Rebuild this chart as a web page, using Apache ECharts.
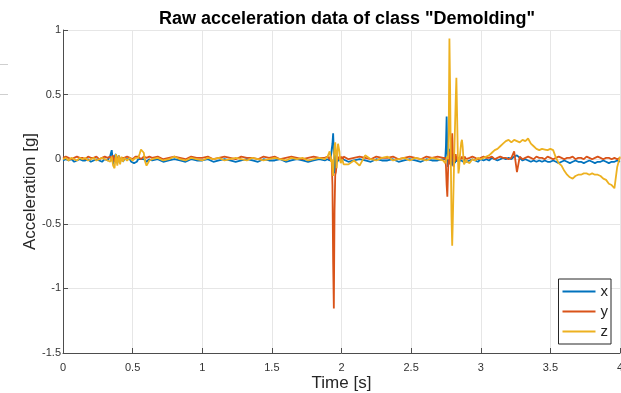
<!DOCTYPE html>
<html>
<head>
<meta charset="utf-8">
<script src="https://cdn.jsdelivr.net/npm/echarts@6/dist/echarts.min.js"></script>
<style>
  html, body { margin: 0; padding: 0; background: #fff; }
  #chart { width: 621px; height: 393px; }
</style>
</head>
<body>
<div id="chart"></div>
<script>
// sample times [s], denser around the impacts
const time = [
  0, 0.02, 0.04, 0.06, 0.08, 0.1, 0.12, 0.14, 0.16, 0.18, 0.2, 0.22, 0.24, 0.26, 0.28, 0.3, 0.32,
  0.33, 0.34, 0.35, 0.36, 0.37, 0.38, 0.39, 0.4, 0.41, 0.42, 0.43, 0.44, 0.45, 0.46, 0.47, 0.48, 0.49, 0.5, 0.51, 0.52, 0.53, 0.54, 0.55, 0.56, 0.57, 0.58, 0.59, 0.6, 0.61, 0.62,
  0.64, 0.68, 0.72, 0.76, 0.8, 0.84, 0.88, 0.92, 0.96, 1, 1.04, 1.08, 1.12, 1.16, 1.2, 1.24, 1.28, 1.32, 1.36, 1.4, 1.44, 1.48, 1.52, 1.56, 1.6, 1.64, 1.68, 1.72, 1.76, 1.8, 1.84, 1.88, 1.9,
  1.91, 1.915, 1.92, 1.925, 1.93, 1.935, 1.94, 1.945, 1.95, 1.955, 1.96, 1.965, 1.97, 1.975, 1.98, 1.985, 1.99, 1.995, 2, 2.005, 2.01, 2.015, 2.02,
  2.05, 2.09, 2.13, 2.17, 2.21, 2.25, 2.29, 2.33, 2.37, 2.41, 2.45, 2.49, 2.53, 2.57, 2.61, 2.65, 2.69, 2.73,
  2.745, 2.75, 2.755, 2.76, 2.765, 2.77, 2.775, 2.78, 2.785, 2.79, 2.795, 2.8, 2.805, 2.81, 2.815, 2.82, 2.825, 2.83, 2.835, 2.84, 2.845, 2.85, 2.855, 2.86, 2.865, 2.87, 2.875, 2.88, 2.885, 2.89, 2.895, 2.9,
  2.92, 2.94, 2.96, 2.98, 3, 3.02, 3.04, 3.06, 3.08, 3.1, 3.12, 3.14, 3.16, 3.18, 3.2, 3.22, 3.24, 3.26, 3.28, 3.3, 3.32, 3.34, 3.36, 3.38, 3.4, 3.42, 3.44, 3.46, 3.48, 3.5,
  3.52, 3.54, 3.56, 3.58, 3.6, 3.62, 3.64, 3.66, 3.68, 3.7, 3.72, 3.74, 3.76, 3.78, 3.8, 3.82, 3.84, 3.86, 3.88, 3.9, 3.92, 3.94, 3.96, 3.98, 4
];

// acceleration [g]
const accX = [
  -0.01, 0, -0.01, 0, -0.02, -0.01, 0, -0.01, -0.01, 0, -0.02, -0.01, 0, -0.01, -0.02, 0, -0.01,
  0, 0.03, 0.07, -0.04, 0.02, 0.04, -0.03, 0.03, -0.02, 0.01, -0.02, 0, -0.01, 0, -0.01, 0, -0.02, -0.01, -0.03, -0.04, -0.02, 0, 0.01, 0, -0.01, 0, -0.01, -0.02, -0.01, 0,
  -0.01, 0, -0.02, -0.01, 0, -0.01, -0.02, 0, -0.01, -0.01, 0, -0.02, -0.01, 0, -0.01, -0.02, -0.01, 0, -0.01, -0.02, 0, -0.01, -0.01, 0, -0.02, -0.01, 0, -0.01, -0.02, -0.01, 0, -0.01, 0,
  0, -0.01, 0.01, 0.03, 0.08, 0.12, 0.2, 0.05, -0.11, -0.04, 0.03, 0.01, -0.02, -0.01, 0, -0.01, 0, -0.01, -0.02, -0.01, 0, -0.01, 0,
  -0.02, -0.01, 0, -0.01, -0.02, 0, -0.01, -0.01, 0, -0.02, -0.01, 0, -0.01, -0.02, 0, -0.01, -0.01, 0,
  0, 0.1, 0.33, 0.05, -0.06, 0.02, 0.08, -0.03, 0.12, 0.03, -0.05, 0.04, -0.02, 0.02, -0.03, 0.01, -0.02, 0, -0.01, 0, -0.01, -0.02, 0, -0.01, -0.01, 0, -0.02, -0.01, 0, -0.01, -0.02, -0.01,
  -0.01, 0, -0.01, -0.02, 0, -0.01, 0, -0.01, 0.01, 0, -0.01, 0, 0.01, 0, 0.01, 0, 0.02, 0.03, 0.01, -0.01, 0, -0.01, -0.02, -0.01, -0.02, -0.01, -0.02, -0.01, -0.02, -0.02,
  -0.01, -0.02, -0.03, -0.02, -0.01, -0.02, -0.03, -0.02, -0.01, -0.02, -0.02, -0.03, -0.02, -0.01, -0.02, -0.03, -0.02, -0.02, -0.01, -0.02, -0.03, -0.02, -0.02, -0.01, -0.02
];

const accY = [
  0.01, 0.02, 0.01, 0, 0.01, 0.02, 0.01, 0.01, 0, 0.02, 0.01, 0.01, 0.02, 0, 0.01, 0.02, 0.01,
  0.01, 0.02, 0, 0.03, -0.02, 0.02, 0, 0.02, -0.01, 0.01, 0.02, 0.01, 0, 0.02, 0.01, 0.01, 0.02, 0, 0.01, 0.02, 0.01, 0.02, 0.01, 0, 0.01, 0.02, 0.01, 0.01, 0, 0.02,
  0.01, 0.02, 0, 0.01, 0.02, 0.01, 0, 0.02, 0.01, 0.01, 0.02, 0, 0.01, 0.02, 0.01, 0, 0.02, 0.01, 0.01, 0, 0.02, 0.01, 0.02, 0, 0.01, 0.02, 0.01, 0, 0.01, 0.02, 0.01, 0.01, 0.02,
  0.01, 0, 0.02, 0, -0.02, -0.2, -0.8, -1.155, -0.4, -0.12, -0.1, -0.03, 0.02, 0, 0.01, 0.02, 0, 0.01, 0.02, 0.01, 0, 0.02, 0.01,
  0, 0.01, 0.02, 0.01, 0, 0.02, 0.01, 0.01, 0.02, 0, 0.01, 0.02, 0.01, 0, 0.02, 0.01, 0.02, 0.01,
  0.01, -0.05, -0.2, -0.29, -0.1, 0.03, -0.04, 0.06, -0.02, 0.1, 0.2, 0.05, -0.06, 0.03, -0.02, 0.04, 0, 0.02, -0.01, 0.01, 0.01, 0.02, 0, 0.01, 0.02, 0.01, 0, 0.01, 0.02, 0.01, 0, 0.01,
  0.01, 0.02, 0.01, 0, 0.01, 0.02, 0.01, 0.01, 0.02, 0, 0.01, 0.02, 0.01, 0.01, 0, 0.01, 0.06, -0.1, 0.02, 0, 0.01, 0.02, 0.01, 0, 0.02, 0.01, 0.01, 0, 0.02, 0.01,
  0, 0.01, 0.02, 0.01, 0, 0.01, 0.01, 0.02, 0, 0.01, 0.01, 0, 0.02, 0.01, 0, 0.01, 0.02, 0.01, 0, 0.01, 0.01, 0, 0.01, 0, 0.01
];

const accZ = [
  0, 0.01, -0.01, 0.01, 0, -0.01, 0.01, 0, 0.01, -0.01, 0, 0.01, -0.01, 0, 0.01, 0, -0.01,
  0, -0.02, 0.02, -0.05, -0.07, 0.04, -0.05, 0.03, -0.04, 0.02, -0.02, 0.01, 0, -0.01, 0, 0.01, 0, -0.01, 0, 0.01, 0, 0.01, 0.04, 0.075, 0.085, 0.05, -0.02, -0.05, -0.03, -0.01,
  0, 0.01, -0.01, 0, 0.02, 0, -0.01, 0.01, 0, -0.01, 0.01, 0, 0.01, -0.01, 0, 0.01, 0, -0.01, 0.01, 0, -0.01, 0, 0.01, 0, -0.01, 0.01, 0, 0.01, -0.01, 0, 0.01, 0, 0.02,
  0.02, 0.06, 0.03, -0.02, 0, -0.08, -0.13, 0.02, 0.1, 0.13, 0.04, -0.07, 0.05, 0.12, 0.13, 0.06, -0.01, -0.03, -0.02, 0, -0.02, -0.04, -0.05,
  -0.04, -0.01, -0.05, 0.03, 0, -0.01, 0.01, 0.02, -0.01, 0, 0.01, -0.01, 0.01, 0, -0.01, 0.01, 0, -0.01,
  -0.03, -0.01, -0.02, 0.02, 0, 0.2, 0.934, 0.55, 0, -0.45, -0.67, -0.45, -0.2, 0.05, 0.25, 0.45, 0.63, 0.35, 0.05, -0.11, -0.07, 0.02, 0.08, 0.13, 0.15, 0.1, 0.02, -0.04, -0.05, -0.02, 0, -0.02,
  -0.03, 0, -0.01, 0.01, 0, 0.01, 0.02, 0.03, 0.05, 0.07, 0.08, 0.1, 0.12, 0.14, 0.15, 0.13, 0.15, 0.14, 0.13, 0.15, 0.14, 0.16, 0.12, 0.1, 0.08, 0.07, 0.08, 0.075, 0.07, 0.08,
  0.07, 0.01, -0.03, -0.05, -0.09, -0.12, -0.14, -0.15, -0.13, -0.12, -0.12, -0.11, -0.11, -0.12, -0.11, -0.12, -0.12, -0.13, -0.15, -0.16, -0.19, -0.2, -0.225, -0.06, 0.02
];

const seriesNames = ['x', 'y', 'z'];
const seriesColors = ['#0072BD', '#D95319', '#EDB120'];
const xTicks = { min: 0, max: 4, step: 0.5 };
const yTicks = { min: -1.5, max: 1, step: 0.5 };

[accX, accY, accZ].forEach((a, i) => {
  if (a.length !== time.length) {
    throw new Error('length mismatch ' + seriesNames[i] + ': ' + a.length + ' vs ' + time.length);
  }
});

const font = "'Liberation Sans', Arial, Helvetica, sans-serif";
const axisColor = '#4d4d4d';
const textColor = '#262626';

const chart = echarts.init(document.getElementById('chart'));

const series = [accX, accY, accZ].map((vals, i) => ({
  type: 'line',
  name: seriesNames[i],
  data: time.map((t, k) => [t, vals[k]]),
  symbol: 'none',
  lineStyle: { color: seriesColors[i], width: 1.8 },
  itemStyle: { color: seriesColors[i] },
  z: 2 + i,
}));

chart.setOption({
  animation: false,
  textStyle: { fontFamily: font },
  title: {
    text: 'Raw acceleration data of class "Demolding"',
    left: 342,
    top: 5,
    textAlign: 'center',
    textStyle: { fontSize: 18, fontWeight: 'bold', color: '#000', fontFamily: font },
  },
  grid: { left: 63, right: 1, top: 30, bottom: 40, outerBoundsMode: 'none' },
  legend: {
    data: seriesNames,
    orient: 'vertical',
    right: 10,
    top: 279,
    itemWidth: 33,
    itemHeight: 14,
    itemGap: 5,
    padding: [5, 3, 5, 3],
    backgroundColor: '#fff',
    borderColor: textColor,
    borderWidth: 1,
    borderRadius: 0,
    itemStyle: { opacity: 0 },
    textStyle: { fontSize: 15, color: textColor, fontFamily: font },
  },
  xAxis: {
    type: 'value',
    min: xTicks.min,
    max: xTicks.max,
    interval: xTicks.step,
    name: 'Time [s]',
    nameLocation: 'middle',
    nameGap: 22,
    nameMoveOverlap: false,
    nameTextStyle: { fontSize: 17, color: textColor, fontFamily: font },
    axisLine: { show: true, onZero: false, lineStyle: { color: axisColor, width: 1 } },
    axisTick: { show: true, inside: true, length: 5, lineStyle: { color: axisColor } },
    axisLabel: { color: '#333', fontSize: 11, margin: 9, showMaxLabel: true, showMinLabel: true },
    splitLine: { show: true, lineStyle: { color: '#e6e6e6', width: 1 } },
  },
  yAxis: {
    type: 'value',
    min: yTicks.min,
    max: yTicks.max,
    interval: yTicks.step,
    name: 'Acceleration [g]',
    nameLocation: 'middle',
    nameGap: 24,
    nameMoveOverlap: false,
    nameTextStyle: { fontSize: 17, color: textColor, fontFamily: font },
    axisLine: { show: true, onZero: false, lineStyle: { color: axisColor, width: 1 } },
    axisTick: { show: true, inside: true, length: 5, lineStyle: { color: axisColor } },
    axisLabel: { color: '#333', fontSize: 11, margin: 2 },
    splitLine: { show: true, lineStyle: { color: '#e6e6e6', width: 1 } },
  },
  graphic: [
    { type: 'line', shape: { x1: 0, y1: 64.5, x2: 8, y2: 64.5 }, style: { stroke: '#cfcfcf', lineWidth: 1 } },
    { type: 'line', shape: { x1: 0, y1: 94.5, x2: 8, y2: 94.5 }, style: { stroke: '#cfcfcf', lineWidth: 1 } },
  ],
  series,
});

window.addEventListener('resize', () => chart.resize());
</script>
</body>
</html>
